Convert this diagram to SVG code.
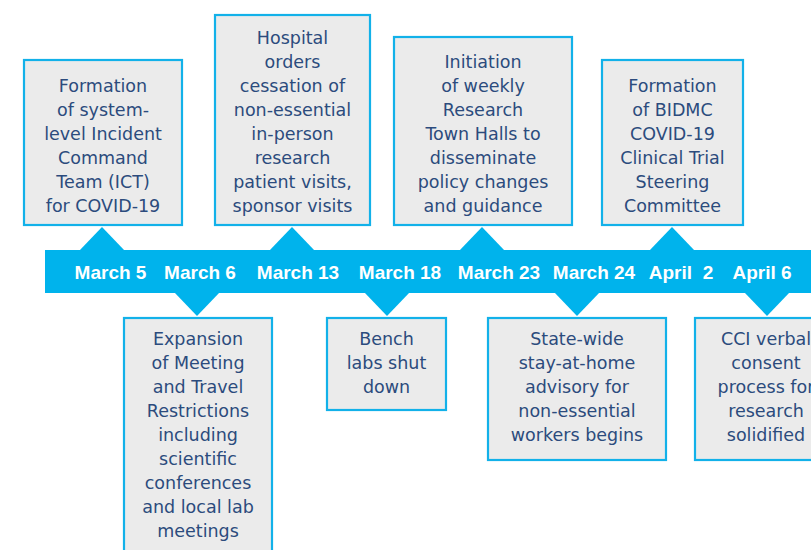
<svg xmlns="http://www.w3.org/2000/svg" width="811" height="550" viewBox="0 0 811 550">
<style>
.box{fill:#ebebeb;stroke:#12b1e9;stroke-width:2.2}
.t{font-family:"DejaVu Sans",sans-serif;font-size:17.5px;fill:#2c4b7d;text-anchor:middle}
.d{font-family:"Liberation Sans",Arial,sans-serif;font-weight:bold;font-size:19px;fill:#ffffff;text-anchor:middle}
.band{fill:#00b3ec}
</style>
<rect width="811" height="550" fill="#ffffff"/>
<g id="timeline">
<rect class="band" x="45" y="250" width="766" height="43"/>
</g>
<g id="connectors">
<polygon class="band" points="79,251 102,227 125,251"/>
<polygon class="band" points="269,251 292,227 315,251"/>
<polygon class="band" points="459,251 482,227 505,251"/>
<polygon class="band" points="649,251 672,227 695,251"/>
<polygon class="band" points="174,292 197,316 220,292"/>
<polygon class="band" points="364,292 387,316 410,292"/>
<polygon class="band" points="554,292 577,316 600,292"/>
<polygon class="band" points="744,292 767,316 790,292"/>
</g>
<g id="dates">
<text class="d" x="110.5" y="279">March 5</text>
<text class="d" x="200" y="279">March 6</text>
<text class="d" x="298" y="279">March 13</text>
<text class="d" x="400" y="279">March 18</text>
<text class="d" x="499" y="279">March 23</text>
<text class="d" x="594" y="279">March 24</text>
<text class="d" x="681" y="279" xml:space="preserve">April  2</text>
<text class="d" x="762" y="279">April 6</text>
</g>
<g id="n1">
<rect class="box" x="24" y="60" width="158" height="165"/>
<text class="t" x="103" y="92">Formation</text>
<text class="t" x="103" y="116">of system-</text>
<text class="t" x="103" y="140">level Incident</text>
<text class="t" x="103" y="164">Command</text>
<text class="t" x="103" y="188">Team (ICT)</text>
<text class="t" x="103" y="212">for COVID-19</text>
</g>
<g id="n2">
<rect class="box" x="215" y="15" width="155" height="210"/>
<text class="t" x="292.5" y="44">Hospital</text>
<text class="t" x="292.5" y="68">orders</text>
<text class="t" x="292.5" y="92">cessation of</text>
<text class="t" x="292.5" y="116">non-essential</text>
<text class="t" x="292.5" y="140">in-person</text>
<text class="t" x="292.5" y="164">research</text>
<text class="t" x="292.5" y="188">patient visits,</text>
<text class="t" x="292.5" y="212">sponsor visits</text>
</g>
<g id="n3">
<rect class="box" x="394" y="37" width="178" height="188"/>
<text class="t" x="483" y="68">Initiation</text>
<text class="t" x="483" y="92">of weekly</text>
<text class="t" x="483" y="116">Research</text>
<text class="t" x="483" y="140">Town Halls to</text>
<text class="t" x="483" y="164">disseminate</text>
<text class="t" x="483" y="188">policy changes</text>
<text class="t" x="483" y="212">and guidance</text>
</g>
<g id="n4">
<rect class="box" x="602" y="60" width="141" height="165"/>
<text class="t" x="672.5" y="92">Formation</text>
<text class="t" x="672.5" y="116">of BIDMC</text>
<text class="t" x="672.5" y="140">COVID-19</text>
<text class="t" x="672.5" y="164">Clinical Trial</text>
<text class="t" x="672.5" y="188">Steering</text>
<text class="t" x="672.5" y="212">Committee</text>
</g>
<g id="n5">
<rect class="box" x="124" y="318" width="148" height="250"/>
<text class="t" x="198" y="345">Expansion</text>
<text class="t" x="198" y="369">of Meeting</text>
<text class="t" x="198" y="393">and Travel</text>
<text class="t" x="198" y="417">Restrictions</text>
<text class="t" x="198" y="441">including</text>
<text class="t" x="198" y="465">scientific</text>
<text class="t" x="198" y="489">conferences</text>
<text class="t" x="198" y="513">and local lab</text>
<text class="t" x="198" y="537">meetings</text>
</g>
<g id="n6">
<rect class="box" x="327" y="318" width="119" height="92"/>
<text class="t" x="386.5" y="345">Bench</text>
<text class="t" x="386.5" y="369">labs shut</text>
<text class="t" x="386.5" y="393">down</text>
</g>
<g id="n7">
<rect class="box" x="488" y="318" width="178" height="142"/>
<text class="t" x="577" y="345">State-wide</text>
<text class="t" x="577" y="369">stay-at-home</text>
<text class="t" x="577" y="393">advisory for</text>
<text class="t" x="577" y="417">non-essential</text>
<text class="t" x="577" y="441">workers begins</text>
</g>
<g id="n8">
<rect class="box" x="695" y="318" width="150" height="142"/>
<text class="t" x="766" y="345">CCI verbal</text>
<text class="t" x="766" y="369">consent</text>
<text class="t" x="766" y="393">process for</text>
<text class="t" x="766" y="417">research</text>
<text class="t" x="766" y="441">solidified</text>
</g>
</svg>
